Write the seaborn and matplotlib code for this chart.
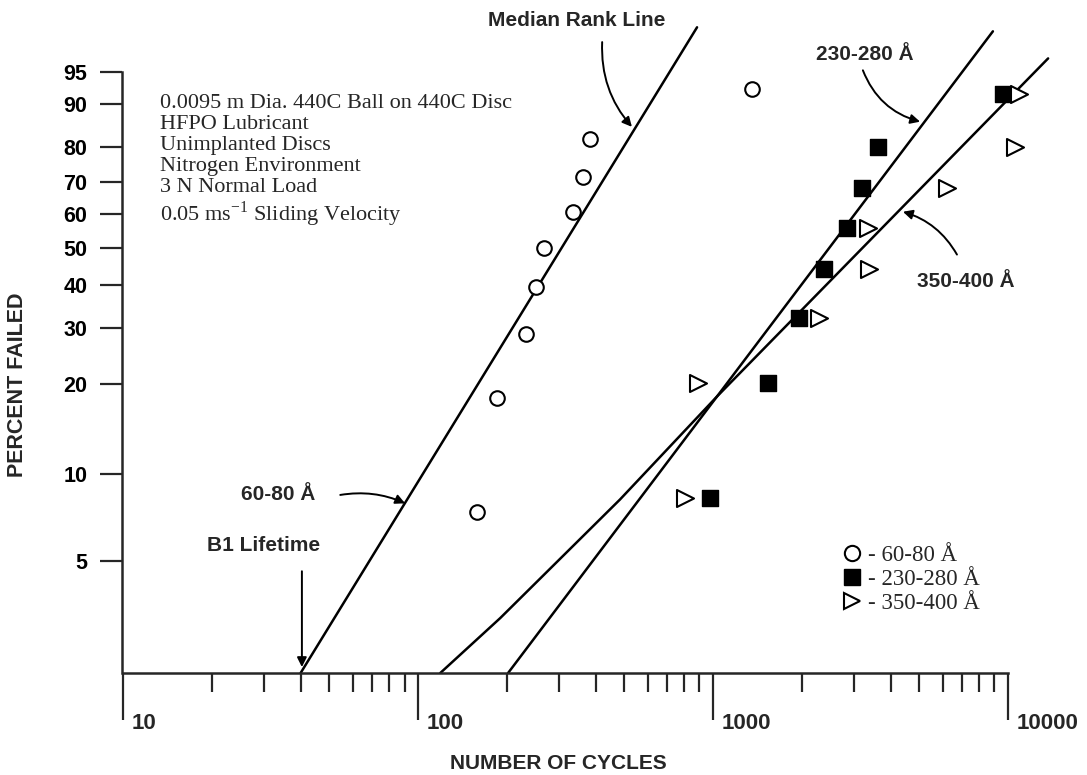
import numpy as np
import matplotlib
matplotlib.use("Agg")
import matplotlib.pyplot as plt
import seaborn as sns
from matplotlib.lines import Line2D
from matplotlib.transforms import ScaledTranslation

# failure data (cycles to failure, median rank % failed)
cycles_60_80 = [158, 185, 232, 251, 267, 335, 362, 383, 1355]
pct_60_80 = [7.4, 18.1, 28.7, 39.4, 50.0, 60.6, 71.3, 81.9, 92.6]

cycles_230_280 = [977, 1535, 1960, 2380, 2845, 3200, 3625, 9620]
pct_230_280 = [8.3, 20.2, 32.1, 44.0, 56.0, 67.9, 79.8, 91.7]

cycles_350_400 = [803, 889, 2285, 3380, 3350, 6210, 10570, 10890]
pct_350_400 = [8.3, 20.2, 32.1, 44.0, 56.0, 67.9, 79.8, 91.7]

# Weibull lines drawn through each set (the 350-400 one is hand drawn, slightly bent)
fit_60_80_cycles = [40, 883]
fit_60_80_pct = [2.0, 98.7]
fit_230_280_cycles = [202, 8890]
fit_230_280_pct = [2.0, 98.5]
fit_350_400_cycles = [119, 190, 484, 1032, 13680]
fit_350_400_pct = [2.0, 3.14, 8.2, 18.25, 96.5]

y_ticks = [5, 10, 20, 30, 40, 50, 60, 70, 80, 90, 95]
x_major = [10, 100, 1000, 10000]
x_minor = [m * 10**k for k in (1, 2, 3) for m in range(2, 10)]


def weibull(p):
    p = np.clip(np.asarray(p, dtype=float), 1e-6, 99.99999)
    return np.log(-np.log(1 - p / 100.0))


def weibull_inv(w):
    return 100.0 * (1 - np.exp(-np.exp(w)))


sns.set_style("ticks")
plt.rcParams['font.family'] = ['Liberation Sans', 'DejaVu Sans']
SERIF = ['Liberation Serif', 'DejaVu Serif']

fig = plt.figure(figsize=(10.87, 7.75), dpi=100)
ax = fig.add_axes([122 / 1087, 102 / 775, 965 / 1087, 673 / 775])

# -----------------------
# lines and points
# -----------------------
for xs, ys in [(fit_60_80_cycles, fit_60_80_pct),
               (fit_230_280_cycles, fit_230_280_pct),
               (fit_350_400_cycles, fit_350_400_pct)]:
    sns.lineplot(x=xs, y=ys, sort=False, estimator=None, color='black', lw=1.8, ax=ax)

sns.scatterplot(x=cycles_60_80, y=pct_60_80, marker='o', s=110, facecolor='white',
                edgecolor='black', linewidth=1.5, ax=ax, zorder=3)
sns.scatterplot(x=cycles_230_280, y=pct_230_280, marker='s', s=130, facecolor='black',
                edgecolor='black', linewidth=1.0, ax=ax, zorder=3)
sns.scatterplot(x=cycles_350_400, y=pct_350_400, marker='>', s=150, facecolor='white',
                edgecolor='black', linewidth=1.5, ax=ax, zorder=3)

# -----------------------
# scales and axes
# -----------------------
ax.set_xscale('log')
ax.set_yscale('function', functions=(weibull, weibull_inv))
ax.set_xlim(9.92, 18530)
ax.set_ylim(2.0, 99.57)

for side in ['top', 'right']:
    ax.spines[side].set_visible(False)
ax.spines['left'].set_bounds(2.0, 95)
ax.spines['bottom'].set_bounds(10, 10000)
ax.spines['left'].set_linewidth(1.8)
ax.spines['bottom'].set_linewidth(1.8)

ax.set_yticks(y_ticks)
ax.set_yticklabels([str(t) for t in y_ticks])
ax.yaxis.set_minor_locator(matplotlib.ticker.NullLocator())
ax.tick_params(axis='y', direction='out', length=16, width=1.6, pad=9,
               labelsize=15.5, labelcolor='black')

ax.set_xticks(x_major)
ax.set_xticks(x_minor, minor=True)
ax.set_xticklabels([str(t) for t in x_major])
ax.xaxis.set_minor_formatter(matplotlib.ticker.NullFormatter())
ax.tick_params(axis='x', which='major', direction='out', length=34, width=1.6,
               pad=-5, labelsize=16)
ax.tick_params(axis='x', which='minor', direction='out', length=14, width=1.6)
shift = ScaledTranslation(9 / 100, 0, fig.dpi_scale_trans)
for lbl in ax.get_xticklabels():
    lbl.set_horizontalalignment('left')
    lbl.set_transform(lbl.get_transform() + shift)
for lbl in ax.get_xticklabels() + ax.get_yticklabels():
    lbl.set_fontweight('bold')

ax.set_xlabel('NUMBER OF CYCLES', fontsize=15, fontweight='bold')
ax.set_ylabel('PERCENT FAILED', fontsize=15.5, fontweight='bold')
ax.xaxis.set_label_coords(0.452, -0.120)
ax.yaxis.set_label_coords(-0.097, 0.428)

# -----------------------
# annotations
# -----------------------
arrow = dict(arrowstyle='-|>', color='black', lw=1.4, mutation_scale=14, shrinkA=0, shrinkB=0)
label_kw = dict(fontsize=15, fontweight='bold', ha='center', va='center')

ax.text(346, 99.0, 'Median Rank Line', **label_kw)
ax.annotate('', xy=(531, 85.0), xytext=(421, 97.85),
            arrowprops=dict(arrow, connectionstyle='arc3,rad=0.2'))

ax.text(3273, 96.9, '230-280 Å', **label_kw)
ax.annotate('', xy=(5035, 86.2), xytext=(3222, 95.2),
            arrowprops=dict(arrow, connectionstyle='arc3,rad=0.25'))

ax.text(7210, 40.8, '350-400 Å', **label_kw)
ax.annotate('', xy=(4405, 60.8), xytext=(6715, 48.1),
            arrowprops=dict(arrow, connectionstyle='arc3,rad=0.2'))

ax.text(33.5, 8.54, '60-80 Å', **label_kw)
ax.annotate('', xy=(90.4, 7.95), xytext=(54.5, 8.5),
            arrowprops=dict(arrow, connectionstyle='arc3,rad=-0.15'))

ax.text(29.9, 5.68, 'B1 Lifetime', **label_kw)
ax.annotate('', xy=(40.4, 2.1), xytext=(40.4, 4.6), arrowprops=arrow)

info = ('0.0095 m Dia. 440C Ball on 440C Disc\n'
        'HFPO Lubricant\n'
        'Unimplanted Discs\n'
        'Nitrogen Environment\n'
        '3 N Normal Load\n'
        '0.05 ms$^{\\mathregular{-1}}$ Sliding Velocity')
ax.text(0.039, 0.860, info, transform=ax.transAxes, family=SERIF, fontsize=16,
        va='top', ha='left', linespacing=1.13)

handles = [
    Line2D([], [], ls='none', marker='o', ms=11, mfc='white', mec='black', mew=1.5),
    Line2D([], [], ls='none', marker='s', ms=11.5, mfc='black', mec='black'),
    Line2D([], [], ls='none', marker='>', ms=12, mfc='white', mec='black', mew=1.5),
]
labels = ['- 60-80 Å', '- 230-280 Å', '- 350-400 Å']
ax.legend(handles, labels, loc='upper left', bbox_to_anchor=(0.735, 0.207),
          frameon=False, handlelength=0.8, handletextpad=0.3, labelspacing=0.12,
          borderpad=0, prop=dict(family=SERIF, size=16.5))

fig.savefig('out.png', dpi=100)
